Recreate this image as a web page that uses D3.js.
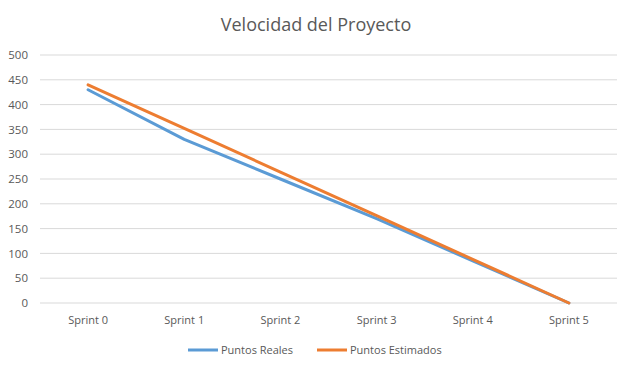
<!DOCTYPE html>
<html>
<head>
<meta charset="utf-8">
<script src="https://cdn.jsdelivr.net/npm/d3@7"></script>
<style>
  body { margin: 0; background: #fff; }
</style>
</head>
<body>
<svg class="chart" width="641" height="370"></svg>
<script>
// data
var sprints = ["Sprint 0", "Sprint 1", "Sprint 2", "Sprint 3", "Sprint 4", "Sprint 5"];
var puntosReales = [430, 330, 250, 170, 85, 0];
var puntosEstimados = [440, 352, 264, 176, 88, 0];
var yTicks = [0, 50, 100, 150, 200, 250, 300, 350, 400, 450, 500];

var svg = d3.select(".chart");
var font = "'Open Sans', 'Noto Sans', sans-serif";

var margin = { top: 55, left: 40, right: 24, bottom: 67 },
    width = 641 - margin.left - margin.right,
    height = 370 - margin.top - margin.bottom;

svg.append("text")
    .attr("x", 316)
    .attr("y", 31)
    .attr("text-anchor", "middle")
    .attr("font-family", font)
    .attr("font-size", "18px")
    .attr("fill", "#595959")
    .text("Velocidad del Proyecto");

var g = svg.append("g")
    .attr("transform", `translate(${margin.left}, ${margin.top})`);

var x = d3.scaleBand()
    .domain(sprints)
    .range([0, width]);

var y = d3.scaleLinear()
    .domain([0, 500])
    .range([height, 0]);

// grid lines
g.selectAll(".grid")
    .data(yTicks)
    .enter().append("line")
    .attr("class", "grid")
    .attr("x1", 0)
    .attr("x2", width)
    .attr("y1", d => y(d))
    .attr("y2", d => y(d))
    .attr("stroke", "#d9d9d9")
    .attr("stroke-width", 1);

// y axis
var yAxis = g.append("g")
    .call(d3.axisLeft(y).tickValues(yTicks).tickSize(0).tickPadding(12));
yAxis.select(".domain").remove();
yAxis.selectAll("text")
    .attr("font-family", font)
    .attr("font-size", "11.5px")
    .attr("fill", "#595959");

// x axis
var xAxis = g.append("g")
    .attr("transform", `translate(0, ${height})`)
    .call(d3.axisBottom(x).tickSize(0).tickPadding(13));
xAxis.select(".domain").remove();
xAxis.selectAll("text")
    .attr("font-family", font)
    .attr("font-size", "11px")
    .attr("fill", "#595959");

var line = d3.line()
    .x((d, i) => x(sprints[i]) + x.bandwidth() / 2)
    .y(d => y(d));

var series = [
    { name: "Puntos Reales", values: puntosReales, color: "#5b9bd5" },
    { name: "Puntos Estimados", values: puntosEstimados, color: "#ed7d31" }
];

g.selectAll(".serie")
    .data(series)
    .enter().append("path")
    .attr("class", "serie")
    .attr("d", d => line(d.values))
    .attr("fill", "none")
    .attr("stroke", d => d.color)
    .attr("stroke-width", 3)
    .attr("stroke-linejoin", "round")
    .attr("stroke-linecap", "round");

// legend
var legendX = [188, 317];
var legend = svg.append("g");
legend.selectAll("line")
    .data(series).enter()
    .append("line")
    .attr("x1", (d, i) => legendX[i])
    .attr("x2", (d, i) => legendX[i] + 30)
    .attr("y1", 350)
    .attr("y2", 350)
    .attr("stroke", d => d.color)
    .attr("stroke-width", 3);
legend.selectAll("text")
    .data(series).enter()
    .append("text")
    .attr("x", (d, i) => legendX[i] + 33)
    .attr("y", 354)
    .attr("font-family", font)
    .attr("font-size", "11px")
    .attr("fill", "#595959")
    .text(d => d.name);
</script>
</body>
</html>
